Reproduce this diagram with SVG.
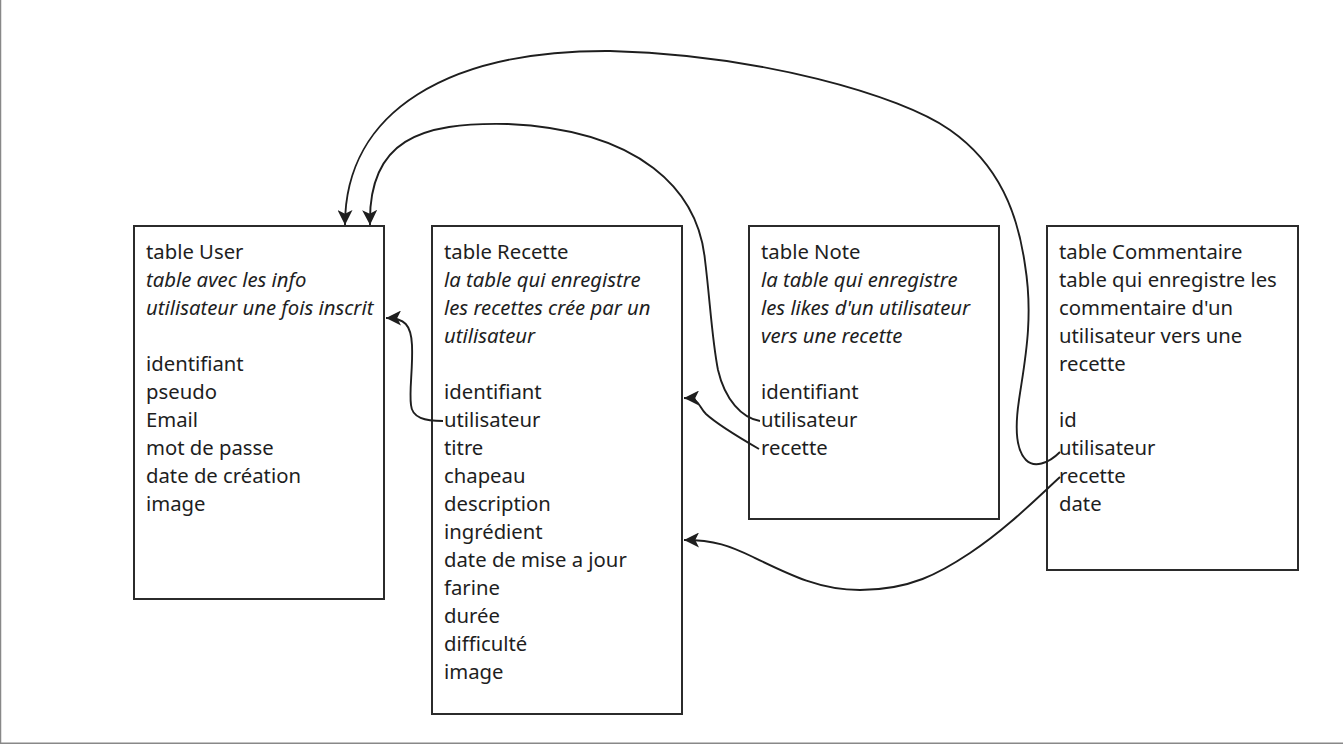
<svg xmlns="http://www.w3.org/2000/svg" width="1343" height="744" viewBox="0 0 1343 744">
<style>
.box{fill:#fff;stroke:#2b2b2b;stroke-width:2}
.t{font-family:"Noto Sans","Open Sans","DejaVu Sans",sans-serif;font-size:20.3px;fill:#1e1e1e}
.i{font-style:italic}
.c{fill:none;stroke:#1e1e1e;stroke-width:1.9;marker-end:url(#ah)}
</style>
<defs>
<marker id="ah" viewBox="0 0 12 12" markerWidth="15" markerHeight="15" refX="12" refY="6" orient="auto" markerUnits="userSpaceOnUse">
<path d="M0,0 L12,6 L0,12 L3,6 z" fill="#1e1e1e"/>
</marker>
</defs>
<rect x="0" y="0" width="1343" height="744" fill="#fff"/>
<line x1="0.5" y1="0" x2="0.5" y2="743.5" stroke="#888" stroke-width="1.5"/>
<line x1="0" y1="743.2" x2="1343" y2="743.2" stroke="#888" stroke-width="1.5"/>

<g id="user">
<rect class="box" x="134" y="226" width="250" height="373"/>
<text class="t" x="146" y="259">table User</text>
<text class="t i" x="146" y="287">table avec les info</text>
<text class="t i" x="146" y="315">utilisateur une fois inscrit</text>
<text class="t" x="146" y="371">identifiant</text>
<text class="t" x="146" y="399">pseudo</text>
<text class="t" x="146" y="427">Email</text>
<text class="t" x="146" y="455">mot de passe</text>
<text class="t" x="146" y="483">date de création</text>
<text class="t" x="146" y="511">image</text>
</g>

<g id="recette">
<rect class="box" x="432" y="226" width="250" height="488"/>
<text class="t" x="444" y="259">table Recette</text>
<text class="t i" x="444" y="287">la table qui enregistre</text>
<text class="t i" x="444" y="315">les recettes crée par un</text>
<text class="t i" x="444" y="343">utilisateur</text>
<text class="t" x="444" y="399">identifiant</text>
<text class="t" x="444" y="427">utilisateur</text>
<text class="t" x="444" y="455">titre</text>
<text class="t" x="444" y="483">chapeau</text>
<text class="t" x="444" y="511">description</text>
<text class="t" x="444" y="539">ingrédient</text>
<text class="t" x="444" y="567">date de mise a jour</text>
<text class="t" x="444" y="595">farine</text>
<text class="t" x="444" y="623">durée</text>
<text class="t" x="444" y="651">difficulté</text>
<text class="t" x="444" y="679">image</text>
</g>

<g id="note">
<rect class="box" x="749" y="226" width="250" height="293"/>
<text class="t" x="761" y="259">table Note</text>
<text class="t i" x="761" y="287">la table qui enregistre</text>
<text class="t i" x="761" y="315">les likes d'un utilisateur</text>
<text class="t i" x="761" y="343">vers une recette</text>
<text class="t" x="761" y="399">identifiant</text>
<text class="t" x="761" y="427">utilisateur</text>
<text class="t" x="761" y="455">recette</text>
</g>

<g id="commentaire">
<rect class="box" x="1047" y="226" width="251" height="344"/>
<text class="t" x="1059" y="259">table Commentaire</text>
<text class="t" x="1059" y="287">table qui enregistre les</text>
<text class="t" x="1059" y="315">commentaire d'un</text>
<text class="t" x="1059" y="343">utilisateur vers une</text>
<text class="t" x="1059" y="371">recette</text>
<text class="t" x="1059" y="427">id</text>
<text class="t" x="1059" y="455">utilisateur</text>
<text class="t" x="1059" y="483">recette</text>
<text class="t" x="1059" y="511">date</text>
</g>

<g id="connectors">
<path class="c" d="M443,421 C425,421 412,418 411,405 C409,390 413,370 412,345 C411,325 405,318 386,318"/>
<path class="c" d="M759,449 C740,438 718,425 706,414 C698,406 700,398 684,398"/>
<path class="c" d="M760,421 C742,418 725,400 718,370 C712,340 710,300 705,260 C698,190 640,130 508,124 C420,122 368,140 370,225"/>
<path class="c" d="M1060,452 C1048,464 1034,468 1026,460 C1014,448 1016,420 1019,400 C1024,365 1034,320 1025,265 C1018,215 1000,165 950,130 C900,95 760,55 610,51 C450,50 345,110 345,225"/>
<path class="c" d="M1060,477 C1035,500 1005,530 970,553 C940,573 910,590 860,590 C820,590 790,575 753,557 C730,546 715,540 684,540"/>
</g>
</svg>
